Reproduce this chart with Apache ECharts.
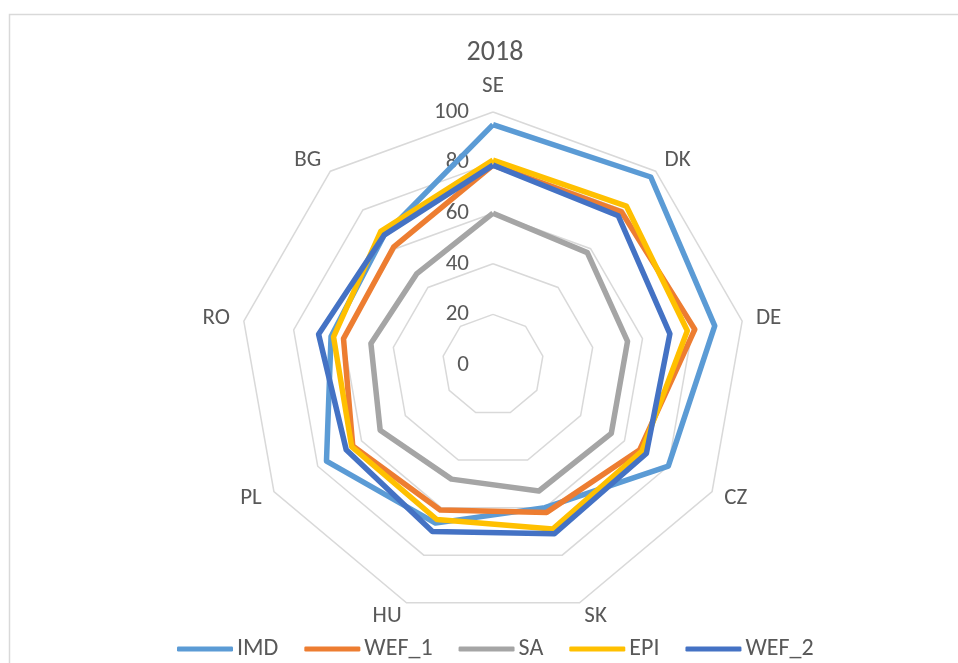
<!DOCTYPE html>
<html>
<head>
<meta charset="utf-8">
<script src="https://cdn.jsdelivr.net/npm/echarts@6/dist/echarts.min.js"></script>
<style>
  html, body { margin: 0; padding: 0; background: #fff; }
  #chart { width: 958px; height: 663px; }
</style>
</head>
<body>
<div id="chart"></div>
<script>
// axes, clockwise from the top
const countries = ['SE', 'DK', 'DE', 'CZ', 'SK', 'HU', 'PL', 'RO', 'BG'];
const tickLabels = [0, 20, 40, 60, 80, 100];

// values (same order as countries)
const imd  = [95, 97, 89, 80, 60, 66.5, 76, 65, 67];
const wef1 = [79, 79, 81, 67, 62, 61, 64, 60, 61];
const sa   = [60, 58, 54, 54, 53, 48, 51.5, 49, 47];
const epi  = [81, 82, 78, 68, 69, 65, 64.5, 64, 69];
const wef2 = [79, 77, 71, 70, 71, 70, 67, 70, 67];

const seriesNames = ['IMD', 'WEF_1', 'SA', 'EPI', 'WEF_2'];
const seriesData = [imd, wef1, sa, epi, wef2];
const colors = ['#5B9BD5', '#ED7D31', '#A5A5A5', '#FFC000', '#4472C4'];

const txt = '#595959';
const font = 'Calibri, Carlito, Lato, sans-serif';
const center = [493, 365];
const radius = 253;

// echarts radar runs counter-clockwise, so flip the order after the first axis
const order = [0].concat(countries.map((c, i) => i).slice(1).reverse());
const reorder = arr => order.map(i => arr[i]);

const chart = echarts.init(document.getElementById('chart'));

const option = {
  backgroundColor: '#fff',
  animation: false,
  color: colors,
  title: {
    text: '2018',
    left: 490,
    textAlign: 'center',
    top: 34,
    textStyle: { fontSize: 28, fontWeight: 'normal', color: txt, fontFamily: font }
  },
  legend: {
    data: seriesNames,
    top: 632,
    left: 172,
    icon: 'roundRect',
    itemWidth: 56,
    itemHeight: 5,
    itemGap: 26,
    textStyle: { fontSize: 24, color: txt, fontFamily: font, padding: [0, 0, 0, -1] }
  },
  graphic: [{
    type: 'rect',
    silent: true,
    shape: { x: 9.5, y: 14.5, width: 1200, height: 1200 },
    style: { fill: 'none', stroke: '#d9d9d9', lineWidth: 1.5 }
  }],
  radar: {
    center: center,
    radius: radius,
    startAngle: 90,
    splitNumber: 5,
    shape: 'polygon',
    indicator: reorder(countries).map(c => ({ name: c, min: 0, max: 100 })),
    axisName: { color: txt, fontSize: 23, fontFamily: font },
    nameGap: 14,
    axisLine: { show: false },
    axisTick: { show: false },
    axisLabel: { show: false },
    splitArea: { show: false },
    splitLine: { lineStyle: { color: '#d9d9d9', width: 1.5 } }
  },
  // polar overlay used only for the 0..100 labels on the top axis
  polar: { center: center, radius: radius },
  angleAxis: {
    type: 'value', startAngle: 90, min: 0, max: 360, show: false
  },
  radiusAxis: {
    type: 'value', min: 0, max: 100, interval: 20,
    axisLine: { show: false },
    axisTick: { show: false },
    splitLine: { show: false },
    axisLabel: {
      inside: true,
      color: txt, fontSize: 23, fontFamily: font, margin: 24,
      verticalAlign: 'middle',
      padding: [6, 0, 0, 0],
      formatter: v => tickLabels.includes(v) ? String(v) : ''
    }
  },
  series: [{
    type: 'radar',
    symbol: 'none',
    data: seriesNames.map((n, i) => ({
      name: n,
      value: reorder(seriesData[i]),
      lineStyle: { color: colors[i], width: 5.5, join: 'round' },
      itemStyle: { color: colors[i] }
    }))
  }]
};

chart.setOption(option);
</script>
</body>
</html>
